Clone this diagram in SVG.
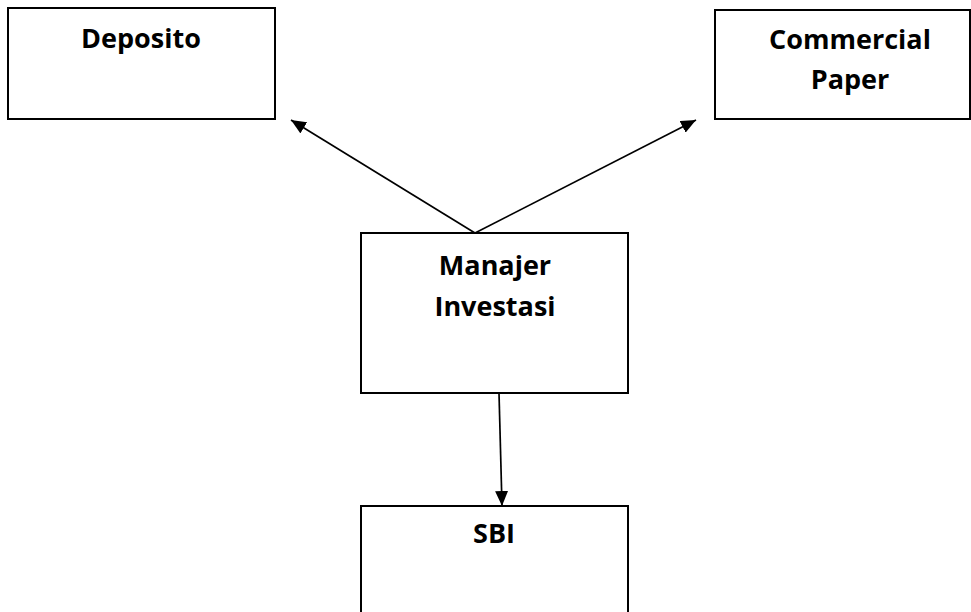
<svg xmlns="http://www.w3.org/2000/svg" width="971" height="612" viewBox="0 0 971 612">
  <style>
    .box { fill: #ffffff; stroke: #000000; stroke-width: 2; }
    .label { font-family: "Open Sans", "Liberation Sans", sans-serif; font-weight: bold; font-size: 27px; fill: #000000; text-anchor: middle; }
    .conn { fill: none; stroke: #000000; stroke-width: 1.7; }
  </style>
  <defs>
    <marker id="arrow" markerUnits="userSpaceOnUse" markerWidth="15" markerHeight="13" viewBox="0 0 15 13" refX="15" refY="6.5" orient="auto">
      <path d="M0,0 L15,6.5 L0,13 z" fill="#000000"/>
    </marker>
  </defs>
  <rect x="0" y="0" width="971" height="612" fill="#ffffff"/>
  <g id="deposito">
    <rect class="box" x="8" y="8" width="267" height="111"/>
    <text class="label" x="141" y="48">Deposito</text>
  </g>
  <g id="commercial-paper">
    <rect class="box" x="715" y="10" width="255" height="109"/>
    <text class="label" x="850" y="49">Commercial</text>
    <text class="label" x="850" y="89">Paper</text>
  </g>
  <g id="manajer-investasi">
    <rect class="box" x="361" y="233" width="267" height="160"/>
    <text class="label" x="495" y="275">Manajer</text>
    <text class="label" x="495" y="316">Investasi</text>
  </g>
  <g id="sbi">
    <rect class="box" x="361" y="506" width="267" height="120"/>
    <text class="label" x="494" y="543">SBI</text>
  </g>
  <g id="connectors">
    <path class="conn" d="M475,233 L291,120" marker-end="url(#arrow)"/>
    <path class="conn" d="M475,233 L696,120" marker-end="url(#arrow)"/>
    <path class="conn" d="M499,393 L502,506" marker-end="url(#arrow)"/>
  </g>
</svg>
